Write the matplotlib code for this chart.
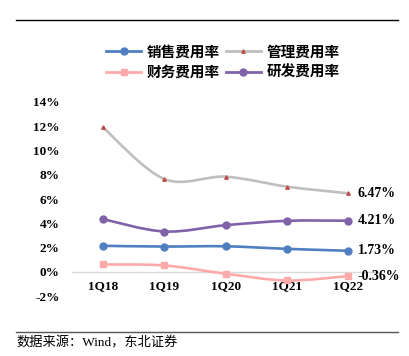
import matplotlib
matplotlib.use("Agg")
import matplotlib.pyplot as plt
from matplotlib.path import Path
from matplotlib.patches import PathPatch
from matplotlib.lines import Line2D
import numpy as np

plt.rcParams['font.family'] = ['Liberation Serif', 'Noto Sans CJK SC', 'DejaVu Sans']

quarters = ['1Q18', '1Q19', '1Q20', '1Q21', '1Q22']
sales = [2.14, 2.08, 2.10, 1.89, 1.73]
admin = [11.9, 7.65, 7.84, 7.02, 6.47]
finance = [0.60, 0.52, -0.16, -0.72, -0.36]
rnd = [4.34, 3.32, 3.84, 4.20, 4.21]
end_labels = ['1.73%', '6.47%', '-0.36%', '4.21%']
names = ['销售费用率', '管理费用率', '财务费用率', '研发费用率']

colors = ['#4f7fc0', '#bfbfbf', '#ffaaaa', '#7f62a8']
markers = ['o', '^', 's', 'o']
mfc = ['#4f7fc0', '#c0504d', '#ffaaaa', '#7f62a8']
msize = [5, 2.5, 5, 5]


def smooth_path(x, y):
    # excel-style smoothed line: bezier segments through the data points
    pts = np.column_stack([x, y]).astype(float)
    n = len(pts)
    verts = [pts[0]]
    codes = [Path.MOVETO]
    for i in range(n - 1):
        p0 = pts[i - 1] if i > 0 else pts[i]
        p1 = pts[i]
        p2 = pts[i + 1]
        p3 = pts[i + 2] if i + 2 < n else pts[i + 1]
        c1 = p1 + (p2 - p0) / 6.0
        c2 = p2 - (p3 - p1) / 6.0
        verts += [c1, c2, p2]
        codes += [Path.CURVE4] * 3
    return Path(verts, codes)


fig = plt.figure(figsize=(4.09, 3.56), dpi=100)
ax = fig.add_axes([0.176, 0.1685, 0.751, 0.545])

x = np.arange(len(quarters))
series = [sales, admin, finance, rnd]
for vals, c, m, fc, ms in zip(series, colors, markers, mfc, msize):
    ax.add_patch(PathPatch(smooth_path(x, vals), fill=False, edgecolor=c,
                           lw=1.9, zorder=3, capstyle='round'))
    ax.plot(x, vals, ls='none', marker=m, ms=ms, color=fc, mec=fc, zorder=4)

for vals, lab in zip(series, end_labels):
    ax.annotate(lab, (x[-1], vals[-1]), xytext=(7, 0), textcoords='offset points',
                va='center', ha='left', fontsize=10, fontweight='bold')

ax.set_xlim(-0.506, 4.506)
ax.set_ylim(-2, 14)
ax.set_yticks(np.arange(-2, 15, 2))
ax.set_yticklabels([f'{v}%' for v in range(-2, 15, 2)], fontsize=9.5, fontweight='bold')
ax.tick_params(axis='y', length=0, pad=9)
ax.set_xticks([])
for s in ax.spines.values():
    s.set_visible(False)
ax.axhline(0, color='#d9d9d9', lw=1, zorder=1)
for xi, q in zip(x, quarters):
    ax.annotate(q, (xi, 0), xytext=(0, -6), textcoords='offset points',
                ha='center', va='top', fontsize=9.5, fontweight='bold')

handles = [Line2D([], [], color=c, lw=2, marker=m, ms=ms, mfc=fc, mec=fc)
           for c, m, fc, ms in zip(colors, markers, mfc, msize)]
# legend fills column by column: row 1 = 销售, 管理; row 2 = 财务, 研发
order = [0, 2, 1, 3]
fig.legend([handles[i] for i in order], [names[i] for i in order], ncol=2,
           loc='center', bbox_to_anchor=(0.545, 1 - 61.5 / 356), frameon=False,
           handlelength=2.4, handletextpad=0.4, columnspacing=0.4,
           labelspacing=0.3, prop={'family': ['Noto Sans CJK SC'], 'size': 10.5, 'weight': 'bold'})

fig.add_artist(Line2D([16 / 409, 398 / 409], [1 - 20 / 356] * 2, color='black', lw=1))
fig.add_artist(Line2D([16 / 409, 398 / 409], [1 - 331.5 / 356] * 2, color='#555555', lw=1))
fig.text(16 / 409, 1 - 343 / 356, '数据来源：Wind，东北证券', fontsize=9.5,
         va='center', ha='left', family=['Liberation Serif', 'Noto Sans CJK SC'])

fig.savefig('out.png', dpi=100)
